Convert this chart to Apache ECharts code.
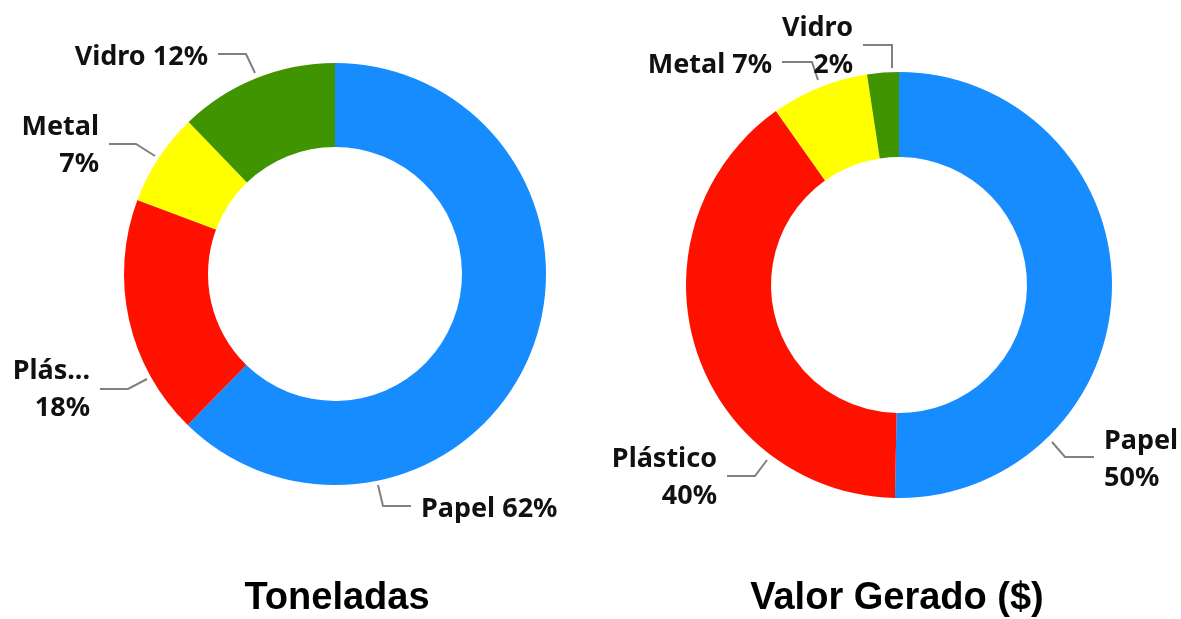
<!DOCTYPE html>
<html>
<head>
<meta charset="utf-8">
<script src="https://cdn.jsdelivr.net/npm/echarts@6/dist/echarts.min.js"></script>
<style>
  html, body { margin: 0; padding: 0; background: #fff; }
  #chart { width: 1181px; height: 619px; }
</style>
</head>
<body>
<div id="chart"></div>
<script>
var categories = ['Papel', 'Plástico', 'Metal', 'Vidro'];
var toneladas = [62.3, 18.4, 7.1, 12.2];
var valorGerado = [50.3, 39.9, 7.4, 2.4];
var titles = ['Toneladas', 'Valor Gerado ($)'];
var colors = ['#168cff', '#ff1100', '#ffff00', '#3f9400'];

// how each label is written and where it sits (like the original layout)
var leftLabels = [
	{ name: 'Papel', sep: ' ', x: 421, y: 509, align: 'left', line: [[378, 485], [383, 506], [411, 506]] },
	{ name: 'Plás...', sep: '\n', x: 90, y: 390, align: 'right', line: [[147, 379], [128, 389], [100, 389]] },
	{ name: 'Metal', sep: '\n', x: 99, y: 146, align: 'right', line: [[155, 156], [136, 144], [109, 144]] },
	{ name: 'Vidro', sep: ' ', x: 208, y: 57, align: 'right', line: [[255, 73], [246, 54], [218, 54]] }
];
var rightLabels = [
	{ name: 'Papel', sep: '\n', x: 1104, y: 460, align: 'left', line: [[1052, 442], [1065, 457], [1094, 457]] },
	{ name: 'Plástico', sep: '\n', x: 717, y: 478, align: 'right', line: [[767, 460], [755, 476], [727, 476]] },
	{ name: 'Metal', sep: ' ', x: 772, y: 65, align: 'right', line: [[818, 80], [812, 62], [782, 62]] },
	{ name: 'Vidro', sep: '\n', x: 853, y: 47, align: 'right', line: [[892, 68], [892, 45], [863, 45]] }
];

var myChart = echarts.init(document.getElementById('chart'));

function makeSeries(values, center, radius, labels) {
	var data = [];
	for (var i = 0; i < categories.length; i++) {
		data.push({ name: categories[i], value: values[i] });
	}
	return {
		type: 'pie',
		center: center,
		radius: radius,
		startAngle: 90,
		clockwise: true,
		avoidLabelOverlap: false,
		silent: true,
		data: data,
		label: {
			show: true,
			position: 'outside',
			color: '#111',
			fontFamily: 'Noto Sans',
			fontWeight: 'bold',
			fontSize: 27,
			lineHeight: 37,
			formatter: function(p) {
				var l = labels[p.dataIndex];
				return l.name + l.sep + Math.round(p.percent) + '%';
			}
		},
		labelLine: {
			show: true,
			length: 14,
			length2: 28,
			lineStyle: { color: '#808080', width: 2 }
		},
		labelLayout: function(params) {
			var l = labels[params.dataIndex];
			return { x: l.x, y: l.y, align: l.align, verticalAlign: 'middle', labelLinePoints: l.line };
		}
	};
}

var titleStyle = { fontFamily: 'Liberation Sans', fontWeight: 'bold', fontSize: 38, color: '#000' };

var option = {
	color: colors,
	animation: false,
	title: [
		{ text: titles[0], left: 337, top: 580, padding: 0, textAlign: 'center', textStyle: titleStyle },
		{ text: titles[1], left: 897, top: 580, padding: 0, textAlign: 'center', textStyle: titleStyle }
	],
	series: [
		makeSeries(toneladas, [335, 274], [127, 211], leftLabels),
		makeSeries(valorGerado, [899, 285], [128, 213], rightLabels)
	]
};
myChart.setOption(option);
</script>
</body>
</html>
